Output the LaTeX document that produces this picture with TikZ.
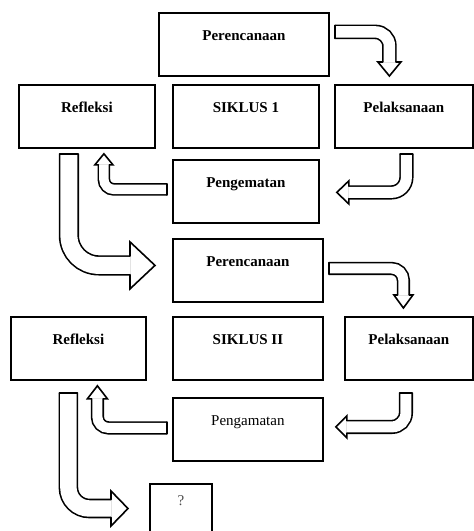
\documentclass[tikz,border=0pt]{standalone}
\usepackage{fontspec}
\setmainfont{Liberation Serif}
\usetikzlibrary{calc}

% hollow bent arrow: start, corner, tip, half shaft, half head, head length, radius
\newcommand\bentarrow[7]{%
  \coordinate (hb) at ($(#3)!#6!(#2)$);
  \draw[shaft,double distance=2*#4-1.6pt,rounded corners=#7] (#1) -- (#2) -- (hb);
  \draw[outl] ($(#1)!#4!90:(#2)$) -- ($(#1)!#4!-90:(#2)$);
  \draw[outl] ($(hb)!#4!90:(#3)$) -- ($(hb)!#5!90:(#3)$) -- (#3)
    -- ($(hb)!#5!-90:(#3)$) -- ($(hb)!#4!-90:(#3)$);
}

\begin{document}
\begin{tikzpicture}[x=1pt,y=-1pt,
  box/.style={draw,line width=1.8pt,inner sep=0pt,anchor=north west,
    text height=28pt,text depth=35pt,font=\fontsize{15}{18}\selectfont\bfseries},
  shaft/.style={line width=1.6pt,double=white},
  outl/.style={line width=1.6pt,line cap=round}]
\clip (0,0) rectangle (474,531);
\fill[white] (0,0) rectangle (474,531);
% siklus 1
\node[box,minimum width=170pt] (per1) at (158,12) {Perencanaan};
\node[box,minimum width=136pt] (ref1) at (18,84) {Refleksi};
\node[box,minimum width=146pt] (sik1) at (172,84) {SIKLUS 1};
\node[box,minimum width=138pt] (pel1) at (334,84) {Pelaksanaan};
\node[box,minimum width=146pt] (peng1) at (172,159) {Pengematan};
% siklus 2
\node[box,minimum width=150pt] (per2) at (172,238) {Perencanaan};
\node[box,minimum width=135pt] (ref2) at (10,316) {Refleksi};
\node[box,minimum width=150pt] (sik2) at (172,316) {SIKLUS II};
\node[box,minimum width=128pt] (pel2) at (344,316) {Pelaksanaan};
\node[box,minimum width=150pt,font=\fontsize{15}{18}\selectfont] (peng2) at (172,397) {Pengamatan};
\node[box,minimum width=62pt,text height=22pt,text depth=60pt,
  font=\fontsize{15}{18}\selectfont,text=black!70] (q) at (149,483) {?};
% arrows siklus 1
\coordinate (a1s) at ([xshift=5pt,yshift=12.5pt]per1.east);
\coordinate (a1t) at ([xshift=-14.5pt,yshift=8pt]pel1.north);
\coordinate (a1c) at (a1s -| a1t);
\bentarrow{a1s}{a1c}{a1t}{6.5pt}{11.5pt}{14pt}{14pt}
\coordinate (a2s) at ([xshift=2.5pt,yshift=-5pt]pel1.south);
\coordinate (a2t) at ([xshift=17pt,yshift=-1pt]peng1.east);
\coordinate (a2c) at (a2s |- a2t);
\bentarrow{a2s}{a2c}{a2t}{6.3pt}{11.5pt}{12pt}{15pt}
\coordinate (a3s) at ([xshift=-5pt,yshift=2pt]peng1.west);
\coordinate (a3t) at ([xshift=17pt,yshift=-5pt]ref1.south);
\coordinate (a3c) at (a3t |- a3s);
\bentarrow{a3s}{a3c}{a3t}{5.5pt}{9pt}{11pt}{10pt}
\coordinate (a4s) at ([xshift=-18pt,yshift=-5pt]ref1.south);
\coordinate (a4t) at ([xshift=-17pt,yshift=5pt]per2.west);
\coordinate (a4c) at (a4s |- a4t);
\bentarrow{a4s}{a4c}{a4t}{9.3pt}{23.5pt}{25pt}{30pt}
% arrows siklus 2
\coordinate (a5s) at ([xshift=5pt,yshift=2pt]per2.east);
\coordinate (a5t) at ([xshift=-5.5pt,yshift=8pt]pel2.north);
\coordinate (a5c) at (a5s -| a5t);
\bentarrow{a5s}{a5c}{a5t}{5.8pt}{9.5pt}{13pt}{12pt}
\coordinate (a6s) at ([xshift=-3pt,yshift=-12pt]pel2.south);
\coordinate (a6t) at ([xshift=12pt,yshift=2.5pt]peng2.east);
\coordinate (a6c) at (a6s |- a6t);
\bentarrow{a6s}{a6c}{a6t}{6.3pt}{11pt}{11pt}{14pt}
\coordinate (a7s) at ([xshift=-5pt,yshift=1.5pt]peng2.west);
\coordinate (a7t) at ([xshift=19pt,yshift=-5pt]ref2.south);
\coordinate (a7c) at (a7t |- a7s);
\bentarrow{a7s}{a7c}{a7t}{5.8pt}{10pt}{13pt}{11pt}
\coordinate (a8s) at ([xshift=-10pt,yshift=-12pt]ref2.south);
\coordinate (a8t) at ([xshift=-21pt,yshift=-25.5pt]q.north west);
\coordinate (a8c) at (a8s |- a8t);
\bentarrow{a8s}{a8c}{a8t}{9pt}{17.5pt}{17pt}{21pt}
\end{tikzpicture}
\end{document}
